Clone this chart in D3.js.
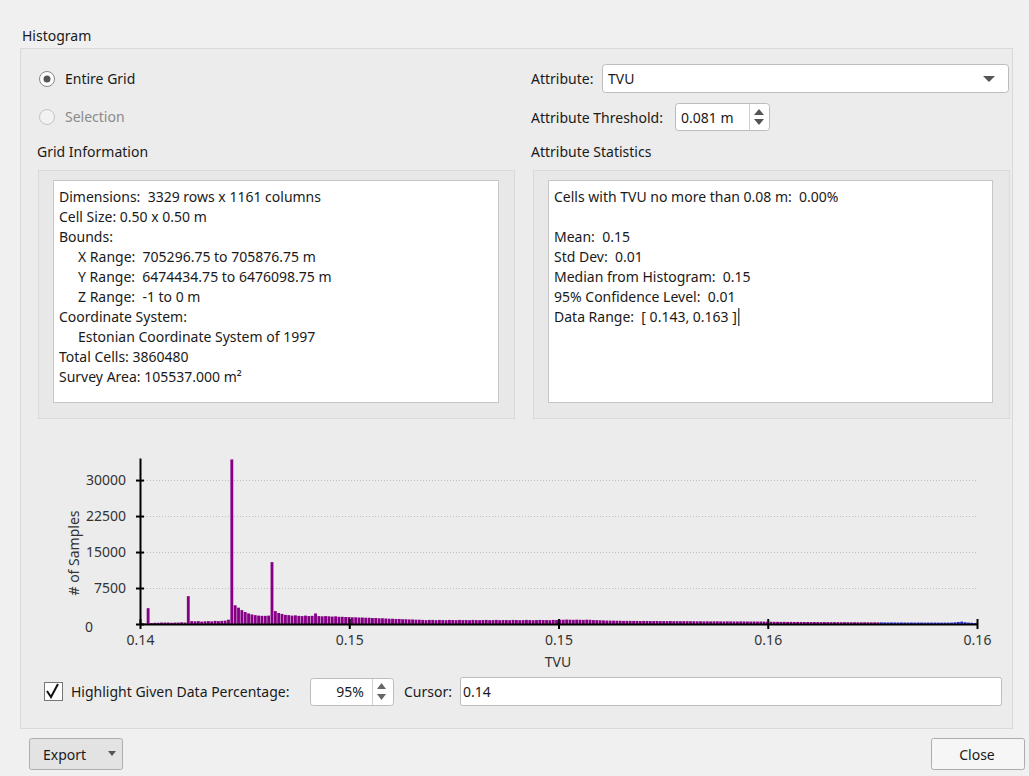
<!DOCTYPE html>
<html>
<head>
<meta charset="utf-8">
<script src="https://cdn.jsdelivr.net/npm/d3@7"></script>
<style>
  body { margin: 0; background: #f0f0f0; }
  svg { display: block; font-family: "Noto Sans", sans-serif; }
  svg text { white-space: pre; }
</style>
</head>
<body>
<div id="dlg"></div>
<script>
// histogram of TVU values, bin counts
const binStart = 0.143, binWidth = 0.00008;
const counts = [
  150, 100, 3300,
  200, 250, 250, 300, 300, 300, 250, 300, 300, 350, 300,
  5800,
  600, 550, 600, 500, 550, 600, 550, 650, 600, 650, 700, 900,
  34300,
  3900, 3400, 2900, 2500, 2200, 2000, 1850, 1750, 1700, 1700, 1750,
  12900,
  2700, 2300, 2100, 1900, 1850, 1750, 1800, 1700, 1650, 1750, 1650, 1700, 2200, 1650, 1600, 1650, 1600, 1550, 1600, 1500,
  1500, 1450, 1450, 1400, 1400, 1350, 1350, 1300, 1300, 1250,
  1250, 1200, 1200, 1150, 1100, 1100, 1050, 1050, 1000, 1000, 950, 950, 900, 900,
  850, 800, 850, 850, 800, 850, 820, 800, 850, 830, 800, 850, 820, 830, 800, 850, 820, 800, 830, 850,
  800, 820, 850, 800, 830, 820, 800, 850, 830, 800, 820, 850, 830, 800, 820, 850, 830, 820, 800, 850, 830,
  900, 880, 920, 900, 870, 900, 880, 850, 900, 870, 820, 800, 780,
  750, 720, 700, 700, 680, 680, 650, 660, 650, 640, 650, 620, 640, 630, 620, 610, 630, 600, 610, 600,
  620, 590, 600, 580, 600, 590, 580,
  580, 560, 570, 550, 560, 540, 550, 560, 540, 530, 550, 540, 530, 520, 540, 530, 520, 510, 520, 500, 510, 500, 480,
  470, 460, 450, 440, 450, 430, 440, 420, 430, 420, 410, 420, 400, 410, 400, 390, 400, 390, 380, 390,
  380, 370, 380, 370, 360, 370, 360, 350, 360, 350, 340, 350, 340,
  340, 330, 320, 330, 320, 310, 320, 310, 300, 310, 300, 310, 300, 290, 300, 290, 300, 290, 280, 290,
  280, 300, 350, 420, 500, 380, 300, 250, 200
];
const highlightMax = 0.16065;   // bins past this are outside the 95% band
const xTicks = [0.143, 0.148, 0.153, 0.158, 0.163];
const yTicks = [0, 7500, 15000, 22500, 30000];
const yTop = 34600;

const gridInfo = [
  ["Dimensions:  3329 rows x 1161 columns", 0],
  ["Cell Size: 0.50 x 0.50 m", 0],
  ["Bounds:", 0],
  ["X Range:  705296.75 to 705876.75 m", 1],
  ["Y Range:  6474434.75 to 6476098.75 m", 1],
  ["Z Range:  -1 to 0 m", 1],
  ["Coordinate System:", 0],
  ["Estonian Coordinate System of 1997", 1],
  ["Total Cells: 3860480", 0],
  ["Survey Area: 105537.000 m\u00b2", 0]
];
const attrStats = [
  "Cells with TVU no more than 0.08 m:  0.00%",
  "",
  "Mean:  0.15",
  "Std Dev:  0.01",
  "Median from Histogram:  0.15",
  "95% Confidence Level:  0.01",
  "Data Range:  [ 0.143, 0.163 ]"
];

const W = 1029, H = 776;
const svg = d3.select("#dlg").append("svg")
    .attr("width", W)
    .attr("height", H);

svg.append("rect").attr("width", W).attr("height", H).attr("fill", "#f0f0f0");

function box(x, y, w, h, fill, stroke, rx) {
  return svg.append("rect")
      .attr("x", x + 0.5).attr("y", y + 0.5)
      .attr("width", w).attr("height", h)
      .attr("rx", rx || 0)
      .attr("fill", fill)
      .attr("stroke", stroke);
}
function label(x, y, txt, color, anchor, size) {
  return svg.append("text")
      .attr("x", x).attr("y", y)
      .attr("fill", color || "#1a1a1a")
      .attr("text-anchor", anchor || "start")
      .style("font-size", (size || 14) + "px")
      .text(txt);
}

// outer group
label(22, 41, "Histogram");
box(20, 48, 992, 680, "#ececec", "#d9d9d9");

// radio buttons
svg.append("circle").attr("cx", 47).attr("cy", 79).attr("r", 7.5)
    .attr("fill", "#fff").attr("stroke", "#888");
svg.append("circle").attr("cx", 47).attr("cy", 79).attr("r", 3.5).attr("fill", "#555");
label(65, 84, "Entire Grid");
svg.append("circle").attr("cx", 47).attr("cy", 117).attr("r", 7.5)
    .attr("fill", "#f2f2f2").attr("stroke", "#c4c4c4");
label(65, 122, "Selection", "#8a8a8a");

// grid information
label(37, 157, "Grid Information");
box(38, 170, 476, 248, "#e8e8e8", "#dadada");
box(53, 180, 445, 222, "#ffffff", "#c6c6c6");
svg.append("g").selectAll("text")
  .data(gridInfo)
  .enter()
  .append("text")
    .attr("x", d => 59 + d[1] * 19)
    .attr("y", (d, i) => 202 + i * 20)
    .attr("fill", "#1a1a1a")
    .style("font-size", "14px")
    .text(d => d[0]);

// attribute selector
label(531, 84, "Attribute:");
box(602, 64, 406, 28, "#ffffff", "#bcbcbc", 3);
label(608, 84, "TVU");
svg.append("path").attr("d", "M983,76 L995,76 L989,82 Z").attr("fill", "#555");

label(531, 123, "Attribute Threshold:");
box(675, 103, 94, 27, "#ffffff", "#bcbcbc", 3);
label(681, 123, "0.081 m");
svg.append("line").attr("x1", 749.5).attr("x2", 749.5).attr("y1", 104).attr("y2", 130)
    .attr("stroke", "#d0d0d0");
svg.append("path").attr("d", "M754,115 L764,115 L759,109 Z").attr("fill", "#555");
svg.append("path").attr("d", "M754,119 L764,119 L759,125 Z").attr("fill", "#555");

// attribute statistics
label(531, 157, "Attribute Statistics");
box(533, 170, 476, 248, "#e8e8e8", "#dadada");
box(548, 180, 444, 222, "#ffffff", "#c6c6c6");
let statText = svg.append("g").selectAll("text")
  .data(attrStats)
  .enter()
  .append("text")
    .attr("x", 554)
    .attr("y", (d, i) => 202 + i * 20)
    .attr("fill", "#1a1a1a")
    .style("font-size", "14px")
    .text(d => d);
// text cursor after the last line
let lastW = statText.nodes()[attrStats.length - 1].getComputedTextLength();
svg.append("line")
    .attr("x1", 556 + lastW).attr("x2", 556 + lastW)
    .attr("y1", 308).attr("y2", 326)
    .attr("stroke", "#000");

// ---- histogram chart ----
let x = d3.scaleLinear()
    .domain([xTicks[0], xTicks[xTicks.length - 1]])
    .range([140, 977]);
let y = d3.scaleLinear()
    .domain([0, yTop])
    .range([624, 458]);

// dotted grid
svg.append("g")
  .selectAll("line")
  .data(yTicks.slice(1))
  .enter()
  .append("line")
    .attr("x1", 144).attr("x2", 977)
    .attr("y1", d => Math.round(y(d)) + 0.5)
    .attr("y2", d => Math.round(y(d)) + 0.5)
    .attr("stroke", "#bdbdbd")
    .attr("stroke-dasharray", "1,2");

// bars
let bw = x(binStart + binWidth) - x(binStart);
svg.append("g")
  .selectAll("rect")
  .data(counts)
  .enter()
  .append("rect")
    .attr("x", (d, i) => x(binStart + i * binWidth))
    .attr("y", d => y(d))
    .attr("width", bw - 0.5)
    .attr("height", d => y(0) - y(d))
    .attr("fill", (d, i) => binStart + i * binWidth >= highlightMax ? "#2a2ad8" : "#850085");

// axes
let xAxis = svg.append("g")
    .attr("transform", "translate(0,624)")
    .call(d3.axisBottom(x).tickValues(xTicks).tickFormat(d3.format(".2f"))
      .tickSizeInner(5).tickSizeOuter(0));
let yAxis = svg.append("g")
    .attr("transform", "translate(140,0)")
    .call(d3.axisLeft(y).tickValues(yTicks).tickFormat(d3.format("d"))
      .tickSizeInner(4).tickSizeOuter(0));

[xAxis, yAxis].forEach(a => {
  a.select(".domain").attr("stroke", "#000").attr("stroke-width", 2);
  a.selectAll(".tick line").attr("stroke", "#000").attr("stroke-width", 2);
  a.selectAll(".tick text").attr("fill", "#333").style("font-size", "14px")
    .style("font-family", "\"Noto Sans\", sans-serif");
});
xAxis.selectAll(".tick line").attr("y1", -5).attr("y2", 5);
xAxis.selectAll(".tick text").attr("y", 11);
yAxis.selectAll(".tick line").attr("x1", 4).attr("x2", -4);
yAxis.selectAll(".tick text").attr("x", -14);
// the zero label sits left, under the other labels
yAxis.selectAll(".tick text").filter(d => d === 0)
    .attr("text-anchor", "start").attr("x", -55).attr("dy", "0.5em");

label(558, 667, "TVU", "#333", "middle");
svg.append("text")
    .attr("transform", "translate(79,553) rotate(-90)")
    .attr("text-anchor", "middle")
    .attr("fill", "#333")
    .style("font-size", "14px")
    .text("# of Samples");

// bottom controls
box(44, 682, 18, 18, "#ffffff", "#777");
svg.append("path").attr("d", "M47,691 L51,697 L58,684")
    .attr("fill", "none").attr("stroke", "#111").attr("stroke-width", 2);
label(71, 697, "Highlight Given Data Percentage:", "#1a1a1a", "start", 14);
box(310, 678, 83, 27, "#ffffff", "#bcbcbc", 3);
label(364, 697, "95%", "#1a1a1a", "end");
svg.append("line").attr("x1", 372.5).attr("x2", 372.5).attr("y1", 679).attr("y2", 705)
    .attr("stroke", "#d0d0d0");
svg.append("path").attr("d", "M377,689 L386,689 L381.5,683 Z").attr("fill", "#666");
svg.append("path").attr("d", "M377,694 L386,694 L381.5,700 Z").attr("fill", "#666");
label(404, 697, "Cursor:");
box(460, 677, 541, 28, "#ffffff", "#bcbcbc", 2);
label(463, 697, "0.14");

// buttons
box(29, 738, 93, 31, "#e3e3e3", "#adadad", 2);
label(43, 760, "Export");
svg.append("path").attr("d", "M108,751 L116,751 L112,756 Z").attr("fill", "#555");
box(931, 738, 93, 31, "#f6f6f6", "#adadad", 2);
label(977, 760, "Close", "#1a1a1a", "middle");
</script>
</body>
</html>
